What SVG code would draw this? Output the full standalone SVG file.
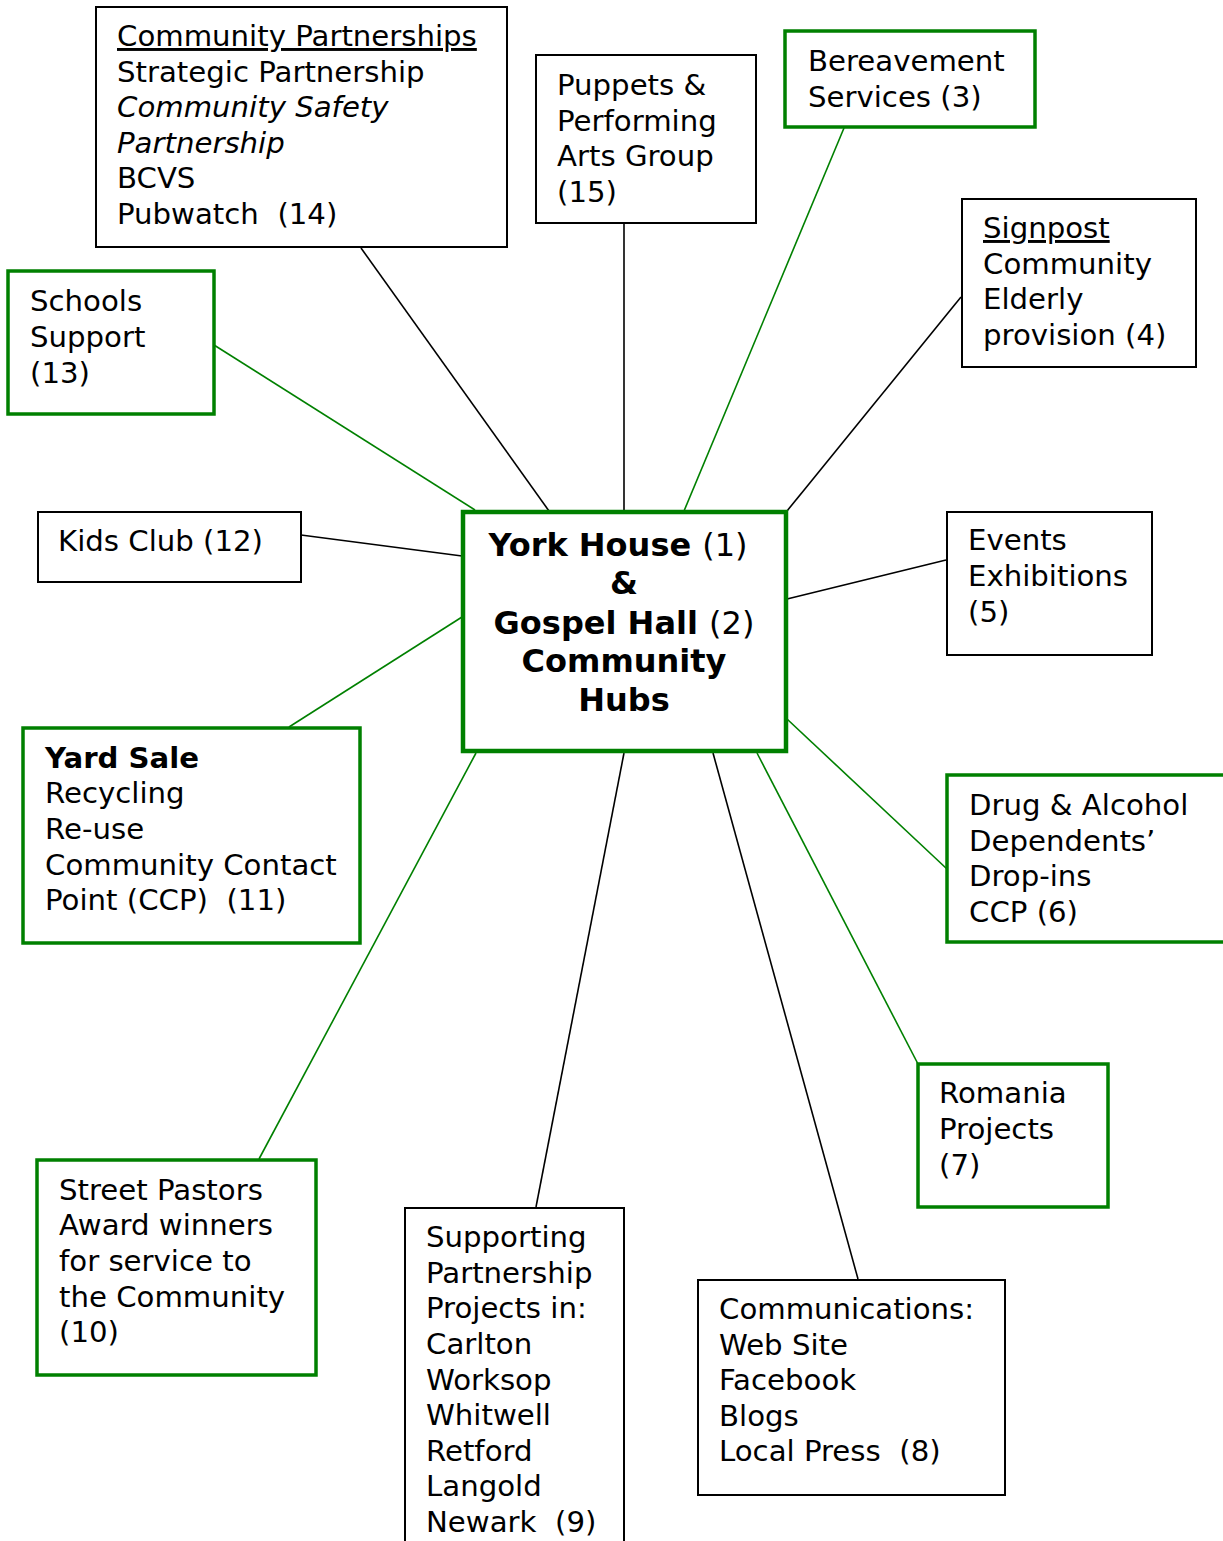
<svg xmlns="http://www.w3.org/2000/svg" width="1223" height="1541" viewBox="0 0 1223 1541">
<style>
text{font-family:"DejaVu Sans",Verdana,sans-serif;font-size:29.2px;fill:#000;white-space:pre}
.b{fill:#fff;stroke:#000;stroke-width:2}
.g{fill:#fff;stroke:#008000;stroke-width:3.5}
.c{fill:#fff;stroke:#008000;stroke-width:4.5}
.lk{stroke:#000;stroke-width:1.6;fill:none}
.lg{stroke:#008000;stroke-width:1.6;fill:none}
.hub{font-weight:bold;font-size:32px}
.n{font-weight:normal}
.u{text-decoration:underline}
.i{font-style:italic}
</style>
<rect width="1223" height="1541" fill="#fff"/>
<g id="connectors">
<line class="lk" x1="361" y1="248" x2="549" y2="511"/>
<line class="lk" x1="624" y1="223" x2="624" y2="511"/>
<line class="lg" x1="844" y1="128" x2="684" y2="511"/>
<line class="lk" x1="961" y1="297" x2="787" y2="511"/>
<line class="lk" x1="946" y1="560" x2="787" y2="599"/>
<line class="lg" x1="787" y1="719" x2="947" y2="869"/>
<line class="lg" x1="757" y1="753" x2="918" y2="1064"/>
<line class="lk" x1="713" y1="753" x2="858" y2="1279"/>
<line class="lk" x1="624" y1="753" x2="536" y2="1207"/>
<line class="lg" x1="476" y1="753" x2="259" y2="1159"/>
<line class="lg" x1="462" y1="617" x2="289" y2="727"/>
<line class="lk" x1="301" y1="535" x2="462" y2="556"/>
<line class="lg" x1="214" y1="345" x2="475" y2="510"/>
</g>
<g id="hub">
<rect class="c" x="463" y="512" width="323" height="239"/>
<text class="hub" text-anchor="middle" xml:space="preserve"><tspan x="618" y="556">York House <tspan class="n">(1)</tspan></tspan><tspan x="624" y="594">&amp;</tspan><tspan x="624" y="634">Gospel Hall <tspan class="n">(2)</tspan></tspan><tspan x="624" y="672">Community</tspan><tspan x="624" y="711">Hubs</tspan></text>
</g>
<g id="n14">
<rect class="b" x="96" y="7" width="411" height="240"/>
<text xml:space="preserve"><tspan x="117" y="46" class="u">Community Partnerships</tspan><tspan x="117" y="82">Strategic Partnership</tspan><tspan x="117" y="117" class="i">Community Safety</tspan><tspan x="117" y="153" class="i">Partnership</tspan><tspan x="117" y="188">BCVS</tspan><tspan x="117" y="224">Pubwatch  (14)</tspan></text>
</g>
<g id="n15">
<rect class="b" x="536" y="55" width="220" height="168"/>
<text><tspan x="557" y="95">Puppets &amp;</tspan><tspan x="557" y="131">Performing</tspan><tspan x="557" y="166">Arts Group</tspan><tspan x="557" y="202">(15)</tspan></text>
</g>
<g id="n3">
<rect class="g" x="785" y="31" width="250" height="96"/>
<text><tspan x="808" y="71">Bereavement</tspan><tspan x="808" y="107">Services (3)</tspan></text>
</g>
<g id="n4">
<rect class="b" x="962" y="199" width="234" height="168"/>
<text><tspan x="983" y="238" class="u">Signpost</tspan><tspan x="983" y="274">Community</tspan><tspan x="983" y="309">Elderly</tspan><tspan x="983" y="345">provision (4)</tspan></text>
</g>
<g id="n5">
<rect class="b" x="947" y="512" width="205" height="143"/>
<text><tspan x="968" y="550">Events</tspan><tspan x="968" y="586">Exhibitions</tspan><tspan x="968" y="622">(5)</tspan></text>
</g>
<g id="n6">
<rect class="g" x="947" y="775" width="290" height="167"/>
<text><tspan x="969" y="815">Drug &amp; Alcohol</tspan><tspan x="969" y="851">Dependents’</tspan><tspan x="969" y="886">Drop-ins</tspan><tspan x="969" y="922">CCP (6)</tspan></text>
</g>
<g id="n7">
<rect class="g" x="918" y="1064" width="190" height="143"/>
<text><tspan x="939" y="1103">Romania</tspan><tspan x="939" y="1139">Projects</tspan><tspan x="939" y="1175">(7)</tspan></text>
</g>
<g id="n8">
<rect class="b" x="698" y="1280" width="307" height="215"/>
<text xml:space="preserve"><tspan x="719" y="1319">Communications:</tspan><tspan x="719" y="1355">Web Site</tspan><tspan x="719" y="1390">Facebook</tspan><tspan x="719" y="1426">Blogs</tspan><tspan x="719" y="1461">Local Press  (8)</tspan></text>
</g>
<g id="n9">
<rect class="b" x="405" y="1208" width="219" height="345"/>
<text xml:space="preserve"><tspan x="426" y="1247">Supporting</tspan><tspan x="426" y="1283">Partnership</tspan><tspan x="426" y="1318">Projects in:</tspan><tspan x="426" y="1354">Carlton</tspan><tspan x="426" y="1390">Worksop</tspan><tspan x="426" y="1425">Whitwell</tspan><tspan x="426" y="1461">Retford</tspan><tspan x="426" y="1496">Langold</tspan><tspan x="426" y="1532">Newark  (9)</tspan></text>
</g>
<g id="n10">
<rect class="g" x="37" y="1160" width="279" height="215"/>
<text><tspan x="59" y="1200">Street Pastors</tspan><tspan x="59" y="1235">Award winners</tspan><tspan x="59" y="1271">for service to</tspan><tspan x="59" y="1307">the Community</tspan><tspan x="59" y="1342">(10)</tspan></text>
</g>
<g id="n11">
<rect class="g" x="23" y="728" width="337" height="215"/>
<text xml:space="preserve"><tspan x="45" y="768" font-weight="bold">Yard Sale</tspan><tspan x="45" y="803">Recycling</tspan><tspan x="45" y="839">Re-use</tspan><tspan x="45" y="875">Community Contact</tspan><tspan x="45" y="910">Point (CCP)  (11)</tspan></text>
</g>
<g id="n12">
<rect class="b" x="38" y="512" width="263" height="70"/>
<text x="58" y="551">Kids Club (12)</text>
</g>
<g id="n13">
<rect class="g" x="8" y="271" width="206" height="143"/>
<text><tspan x="30" y="311">Schools</tspan><tspan x="30" y="347">Support</tspan><tspan x="30" y="383">(13)</tspan></text>
</g>
</svg>
